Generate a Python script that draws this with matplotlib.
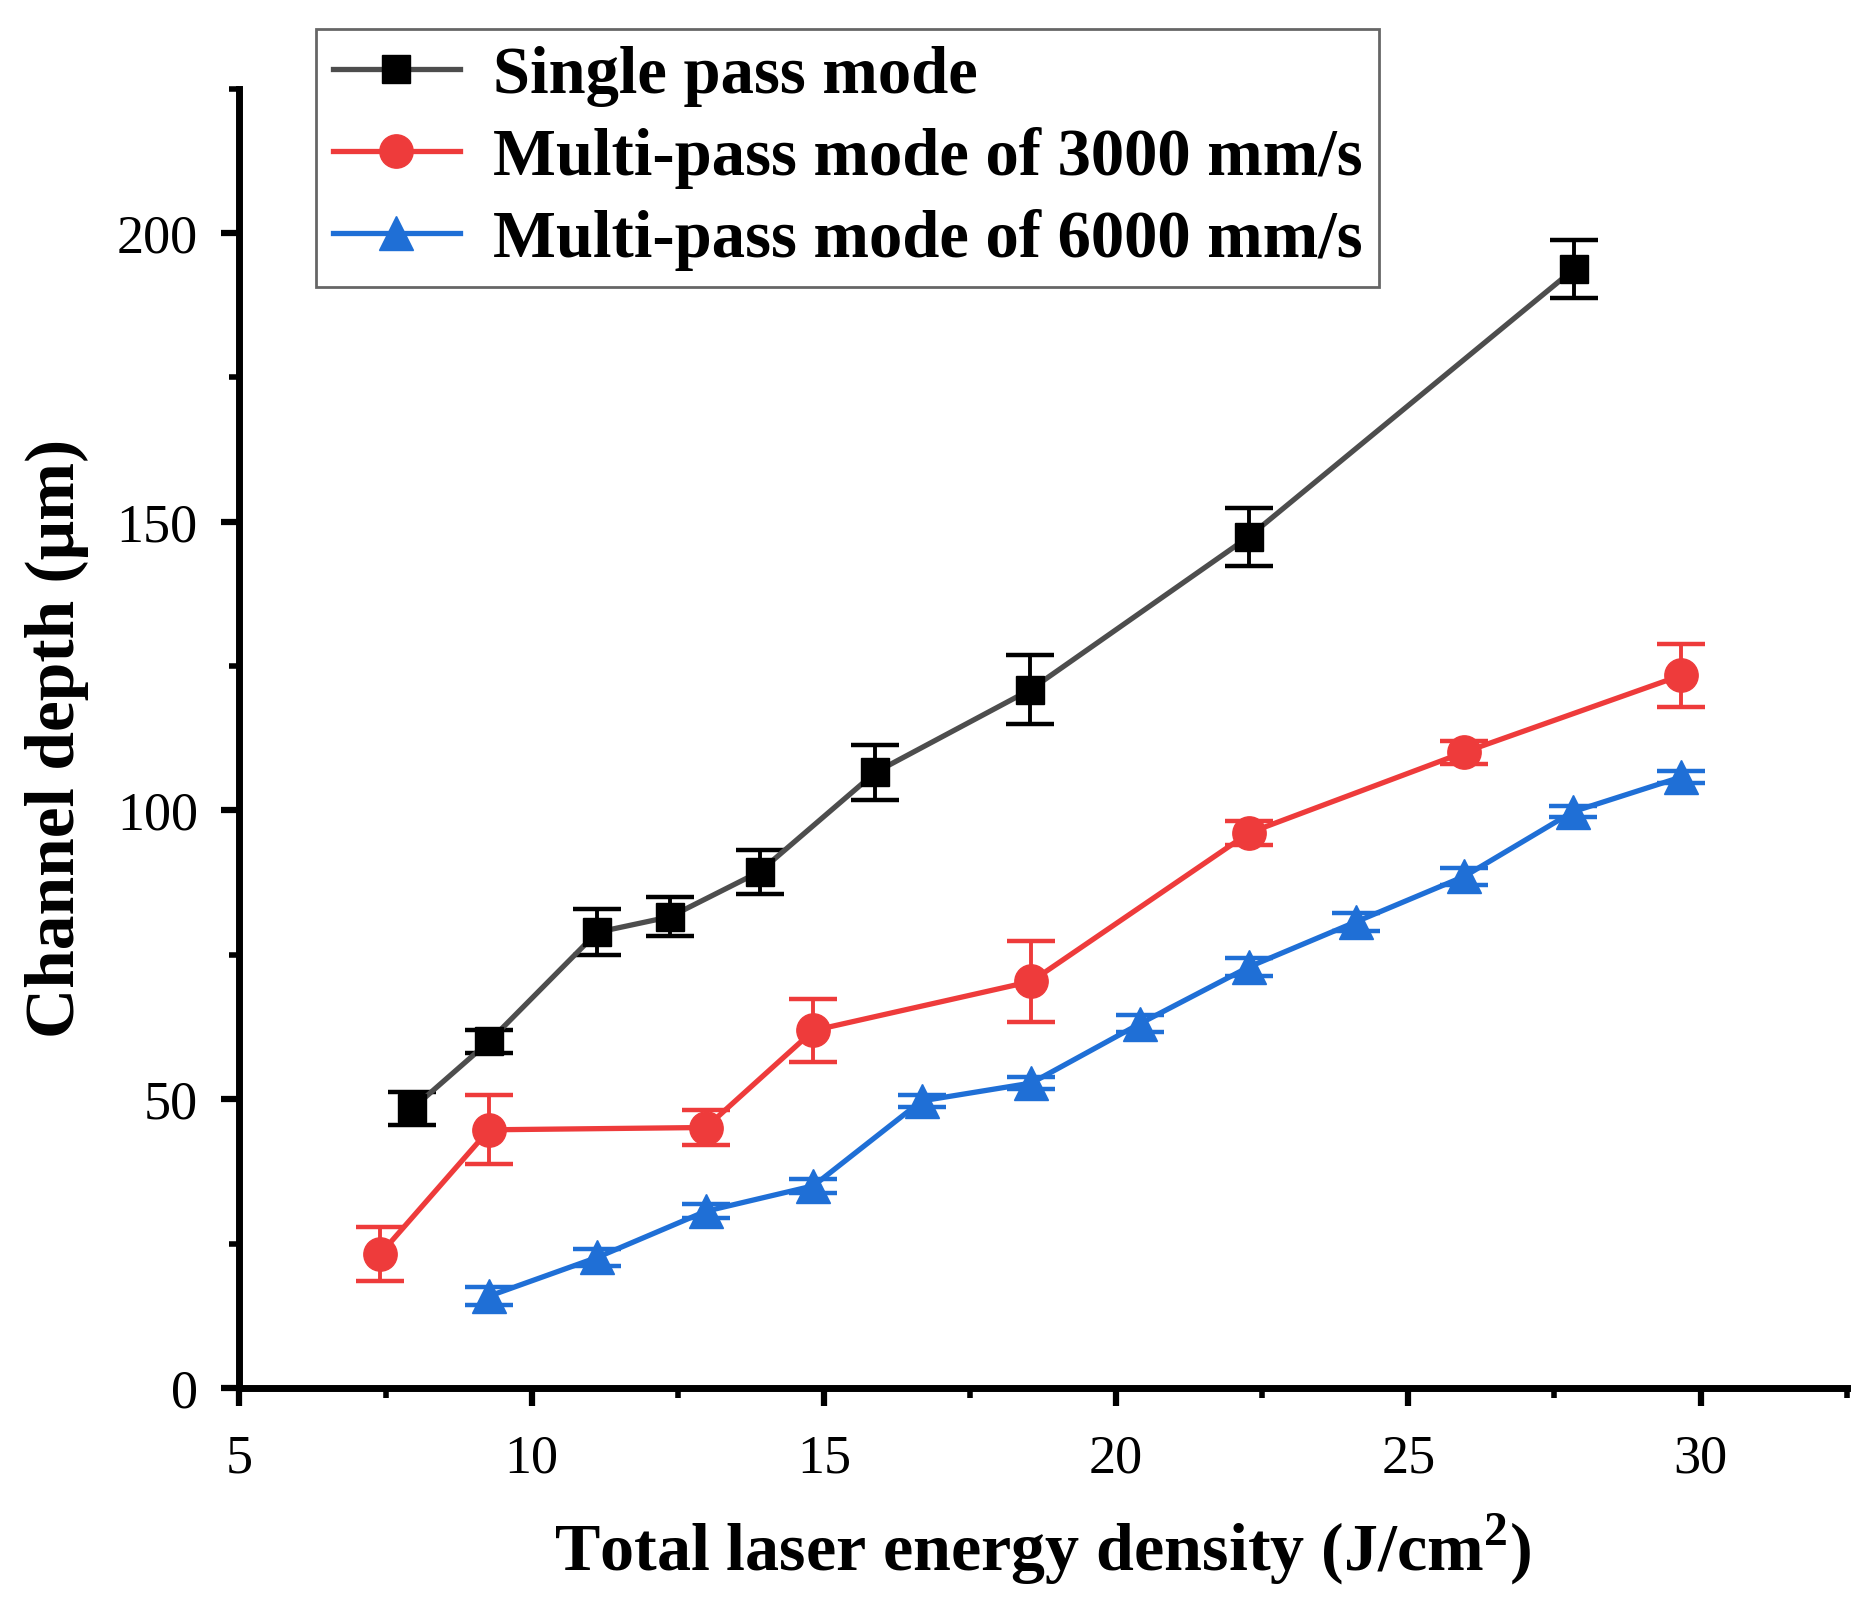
import numpy as np
import matplotlib.pyplot as plt
from matplotlib.ticker import MultipleLocator

# single pass mode
x_single = [7.96, 9.27, 11.12, 12.37, 13.90, 15.88, 18.53, 22.27, 27.84]
y_single = [48.4, 60.0, 78.9, 81.6, 89.4, 106.6, 120.9, 147.4, 193.8]
e_single = [2.8, 2.0, 4.0, 3.4, 3.8, 4.8, 6.0, 5.0, 5.0]

# multi-pass 3000 mm/s
x_3000 = [7.41, 9.27, 12.98, 14.82, 18.55, 22.27, 25.96, 29.67]
y_3000 = [23.2, 44.7, 45.1, 61.9, 70.4, 96.1, 110.1, 123.4]
e_3000 = [4.7, 6.0, 3.0, 5.5, 7.0, 2.0, 2.0, 5.5]

# multi-pass 6000 mm/s
x_6000 = [9.27, 11.12, 12.98, 14.82, 16.67, 18.55, 20.41, 22.27, 24.10, 25.96, 27.82, 29.67]
y_6000 = [15.9, 22.6, 30.6, 35.0, 49.7, 52.8, 63.1, 72.9, 80.7, 88.6, 99.8, 105.8]
e_6000 = [1.5, 1.5, 1.2, 1.2, 1.0, 1.0, 1.5, 1.5, 1.5, 1.5, 1.0, 1.0]

labels = ["Single pass mode", "Multi-pass mode of 3000 mm/s", "Multi-pass mode of 6000 mm/s"]

plt.rcParams['font.family'] = ['Liberation Serif', 'DejaVu Serif']
plt.rcParams['mathtext.fontset'] = 'custom'
plt.rcParams['mathtext.rm'] = 'Liberation Serif'
plt.rcParams['mathtext.bf'] = 'Liberation Serif:bold'

fig = plt.figure(figsize=(18.71, 16.12), dpi=100)
ax = fig.add_axes([0.128, 0.139, 0.859, 0.806])

series = [
    (x_single, y_single, e_single, 's', '#4d4d4d', 'black', 20),
    (x_3000, y_3000, e_3000, 'o', '#ee3b3b', '#ee3b3b', 24),
    (x_6000, y_6000, e_6000, '^', '#1f6fd6', '#1f6fd6', 24),
]
handles = []
for (x, y, e, m, lc, mc, ms), lab in zip(series, labels):
    ax.errorbar(x, y, yerr=e, fmt='none', ecolor=mc, elinewidth=2.8,
                capsize=17, capthick=3.2, zorder=3)
    h, = ax.plot(x, y, color=lc, lw=3.8, marker=m, ms=ms, mfc=mc, mec=mc,
                 label=lab, zorder=4)
    handles.append(h)

ax.set_xlim(5, 32.5)
ax.set_ylim(0, 225)
ax.xaxis.set_major_locator(MultipleLocator(5))
ax.xaxis.set_minor_locator(MultipleLocator(2.5))
ax.yaxis.set_major_locator(MultipleLocator(50))
ax.yaxis.set_minor_locator(MultipleLocator(25))

for s in ['top', 'right']:
    ax.spines[s].set_visible(False)
for s in ['left', 'bottom']:
    ax.spines[s].set_linewidth(5)

ax.tick_params(which='major', direction='out', length=13, width=4.5,
               labelsize=39)
ax.tick_params(which='minor', direction='out', length=7, width=4)
ax.tick_params(axis='x', which='major', pad=20)
ax.tick_params(axis='y', which='major', pad=17)

ax.set_xlabel(r"Total laser energy density (J/cm$^\mathbf{2}$)",
              fontsize=49, fontweight='bold', labelpad=20)
ax.set_ylabel("Channel depth (\u03bcm)", fontsize=50, fontweight='bold',
              labelpad=20)

leg = fig.legend(handles=handles, loc='upper left',
                 bbox_to_anchor=(0.169, 0.982), frameon=True, fancybox=False,
                 edgecolor='#404040', prop={'weight': 'bold', 'size': 48},
                 handlelength=1.9, handletextpad=0.5, labelspacing=0.3,
                 borderpad=0.25, borderaxespad=0)
leg.get_frame().set_linewidth(2)

fig.savefig("out.png", dpi=100)
